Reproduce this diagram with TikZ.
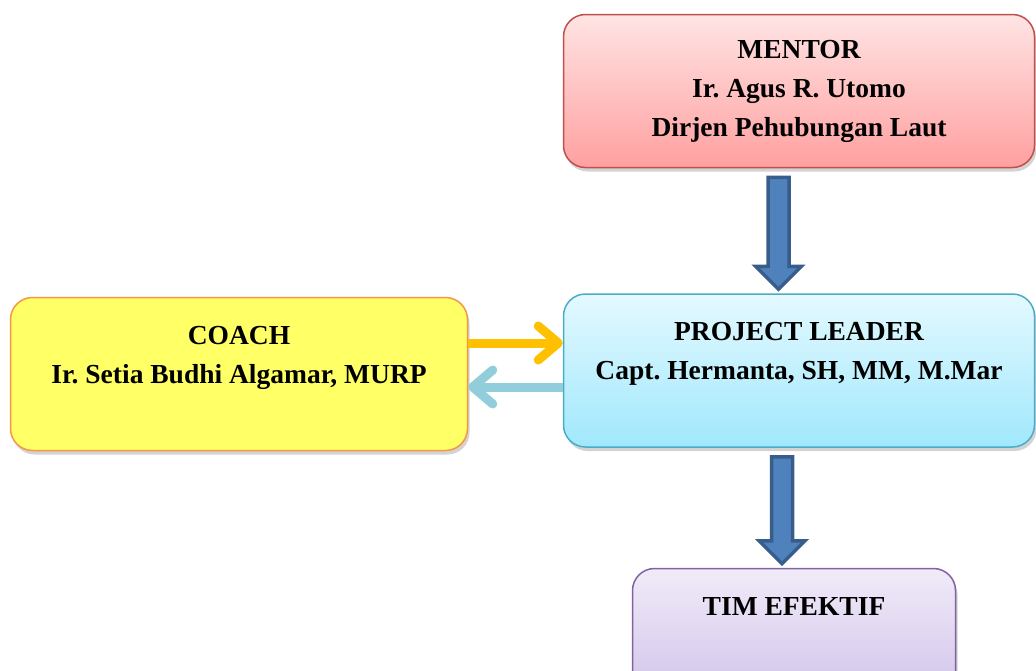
\documentclass[tikz,border=0pt]{standalone}
\usepackage{fontspec}
\setmainfont{Liberation Serif}
\usetikzlibrary{arrows.meta,calc,shadows}
\frenchspacing

\definecolor{mentordraw}{RGB}{192,80,77}
\definecolor{mentortop}{RGB}{255,228,228}
\definecolor{mentorbot}{RGB}{255,160,160}
\definecolor{leaderdraw}{RGB}{75,172,198}
\definecolor{leadertop}{RGB}{228,249,255}
\definecolor{leaderbot}{RGB}{160,232,252}
\definecolor{coachdraw}{RGB}{247,150,70}
\definecolor{coachfill}{RGB}{255,255,102}
\definecolor{timdraw}{RGB}{128,100,162}
\definecolor{timtop}{RGB}{241,235,248}
\definecolor{timbot}{RGB}{204,188,232}
\definecolor{blockfill}{RGB}{79,129,189}
\definecolor{blockdraw}{RGB}{56,93,138}
\definecolor{toleader}{RGB}{255,192,0}
\definecolor{tocoach}{RGB}{146,205,220}

\tikzset{
  box/.style={rounded corners=22pt, line width=1.5pt, align=center,
    font=\fontsize{27.5}{39}\selectfont\bfseries,
    minimum width=471pt, minimum height=153pt,
    drop shadow={shadow xshift=2pt, shadow yshift=-4pt, opacity=0.35}},
  blockarrow/.style={fill=blockfill, draw=blockdraw, line width=3.5pt, line join=miter},
  flowline/.style={line width=9pt, -{Straight Barb[length=20pt,width=34pt,round]}}
}

\newcommand{\blockarrow}[3]{%
  \draw[blockarrow] let \p1=([xshift=#3]#1.south), \p2=([xshift=#3]#2.north) in
    (\x1-10.5pt,\y1-9pt) -- (\x1+10.5pt,\y1-9pt) -- (\x1+10.5pt,\y2+27pt)
    -- (\x1+23pt,\y2+27pt) -- (\x1,\y2+4pt) -- (\x1-23pt,\y2+27pt)
    -- (\x1-10.5pt,\y2+27pt) -- cycle;}

\begin{document}
\begin{tikzpicture}[x=1pt,y=-1pt]
    \useasboundingbox (0,0) rectangle (1036,670);

    \node[box, draw=mentordraw, top color=mentortop, bottom color=mentorbot] (mentor) at (799,91)
        {MENTOR\\Ir. Agus R. Utomo\\Dirjen Pehubungan Laut};
    \node[box, draw=leaderdraw, top color=leadertop, bottom color=leaderbot] (leader) at (799,370.5)
        {PROJECT LEADER\\Capt. Hermanta, SH, MM, M.Mar\\ \mbox{}};
    \node[box, draw=coachdraw, fill=coachfill, minimum width=457pt] (coach) at (239,374)
        {COACH\\Ir. Setia Budhi Algamar, MURP\\ \mbox{}};
    \node[box, draw=timdraw, top color=timtop, bottom color=timbot, minimum width=323pt] (tim) at (794,645)
        {TIM EFEKTIF\\ \mbox{}\\ \mbox{}};

    \blockarrow{mentor}{leader}{-20.5pt}
    \blockarrow{leader}{tim}{-17pt}

    \draw[flowline, toleader] ([yshift=31pt]coach.east) -- ([yshift=31pt]coach.east -| leader.west);
    \draw[flowline, tocoach] ([yshift=-13pt]coach.east -| leader.west) -- ([yshift=-13pt]coach.east);
\end{tikzpicture}
\end{document}
